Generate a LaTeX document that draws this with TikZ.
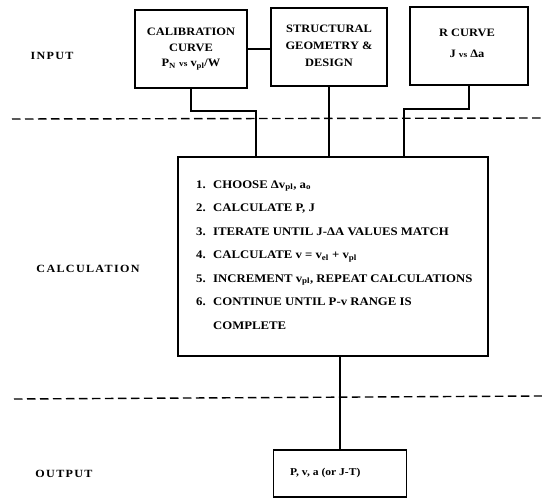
\documentclass[tikz,border=0pt]{standalone}
\usepackage{fontspec}
\setmainfont{Liberation Serif}[FakeStretch=1.1]
\newfontfamily\labelfont{Liberation Serif}[FakeStretch=1.1,LetterSpace=12]
\begin{document}
\begin{tikzpicture}[x=1pt,y=-1pt,
  box/.style={draw,line width=1.4pt,inner sep=0pt,align=center},
  txt/.style={font=\bfseries\fontsize{11.3}{15.5}\selectfont,inner sep=0pt,align=center},
  stepline/.style={font=\bfseries\fontsize{11.6}{12}\selectfont,inner sep=0pt,anchor=base west},
  lbl/.style={font=\labelfont\bfseries\fontsize{11}{12}\selectfont,inner sep=0pt,anchor=base},
  conn/.style={line width=1.4pt},
  sep/.style={line width=1.4pt,dash pattern=on 8.5pt off 4.5pt}]
\useasboundingbox (0,0) rectangle (542,498);
% input boxes
\node[box,minimum width=112pt,minimum height=78pt] (cal) at (191,49) {};
\node[txt] (calt) at (191,49) {CALIBRATION\\CURVE\\P\textsubscript{N} {\fontsize{8.5}{10}\selectfont vs} v\textsubscript{pl}/W};
\node[box,minimum width=116pt,minimum height=78pt] (str) at (329,47) {};
\node[txt,font=\bfseries\fontsize{11.3}{17}\selectfont] (strt) at (329,46) {STRUCTURAL\\GEOMETRY \&\\DESIGN};
\node[box,minimum width=118pt,minimum height=78pt] (rc) at (469,46) {};
\node[txt,font=\bfseries\fontsize{11.3}{21}\selectfont] (rct) at (467,43) {R CURVE\\J {\fontsize{8.5}{10}\selectfont vs} Δa};
% calculation box
\node[box,minimum width=310pt,minimum height=199pt] (calc) at (333,256.5) {};
\node[stepline] (s1) at (196,188) {1.};
\node[stepline] (t1) at (213,188) {CHOOSE Δv\textsubscript{pl}, a\textsubscript{o}};
\node[stepline] (s2) at (196,211.5) {2.};
\node[stepline] (t2) at (213,211.5) {CALCULATE P, J};
\node[stepline] (s3) at (196,235) {3.};
\node[stepline] (t3) at (213,235) {ITERATE UNTIL J-ΔA VALUES MATCH};
\node[stepline] (s4) at (196,258.5) {4.};
\node[stepline] (t4) at (213,258.5) {CALCULATE v = v\textsubscript{el} + v\textsubscript{pl}};
\node[stepline] (s5) at (196,282) {5.};
\node[stepline] (t5) at (213,282) {INCREMENT v\textsubscript{pl}, REPEAT CALCULATIONS};
\node[stepline] (s6) at (196,305.5) {6.};
\node[stepline] (t6) at (213,305.5) {CONTINUE UNTIL P-v RANGE IS};
\node[stepline] (t7) at (213,329) {COMPLETE};
% output box
\node[box,minimum width=133pt,minimum height=47pt] (out) at (340,473.5) {};
\node[stepline,font=\bfseries\fontsize{10.5}{11}\selectfont] (outt) at (290,475) {P, v, a (or J-T)};
% row labels
\node[lbl] (lin) at (52,59) {INPUT};
\node[lbl] (lcalc) at (88,272) {CALCULATION};
\node[lbl] (lout) at (64,477) {OUTPUT};
% connectors
\coordinate (k1) at (256,111);
\coordinate (k3) at (404,109);
\draw[conn] (cal.east) -- (cal.east -| str.west);
\draw[conn] (cal.south) |- (k1) -- (k1 |- calc.north);
\draw[conn] (str.south) -- (str.south |- calc.north);
\draw[conn] (rc.south) |- (k3) -- (k3 |- calc.north);
\draw[conn] (calc.south -| out.north) -- (out.north);
% dashed separators
\coordinate (d1a) at (12,119);
\coordinate (d1b) at (542,118);
\coordinate (d2a) at (14,399);
\coordinate (d2b) at (542,396);
\draw[sep] (d1a) -- (d1b);
\draw[sep] (d2a) -- (d2b);
\end{tikzpicture}
\end{document}
